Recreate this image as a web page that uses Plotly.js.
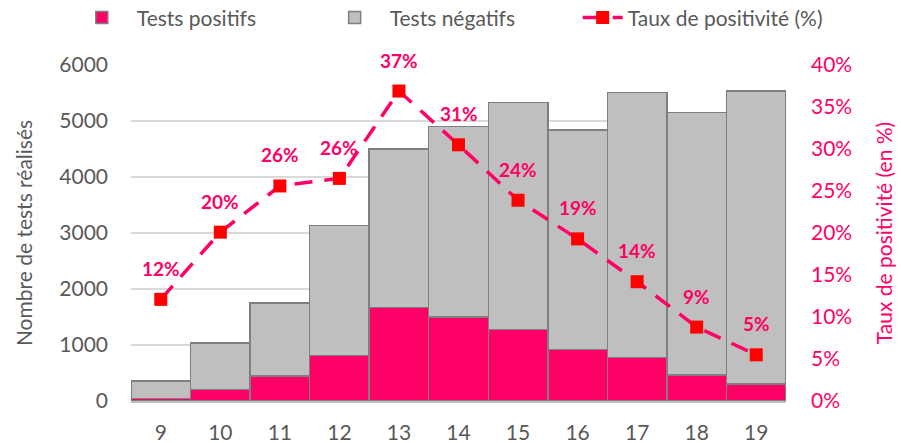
<!DOCTYPE html>
<html>
<head>
<meta charset="utf-8">
<script src="https://cdn.plot.ly/plotly-3.0.1.min.js"></script>
<style>
  body { margin: 0; background: #fff; }
  #graph { width: 901px; height: 443px; }
</style>
</head>
<body>
<div id="graph"></div>
<script>
// semaines
var weeks = [9, 10, 11, 12, 13, 14, 15, 16, 17, 18, 19];
var positifs = [45, 205, 450, 810, 1670, 1500, 1280, 920, 780, 460, 300];
var totaux = [360, 1040, 1750, 3130, 4500, 4900, 5330, 4840, 5510, 5150, 5540];
var negatifs = totaux.map(function (t, i) { return t - positifs[i]; });
var taux = [12.1, 20.1, 25.6, 26.5, 36.9, 30.5, 23.9, 19.3, 14.2, 8.8, 5.5];
var tauxLabels = ["12%", "20%", "26%", "26%", "37%", "31%", "24%", "19%", "14%", "9%", "5%"];

var pink = "#FF0066";
var grey = "#595959";
var font = "Lato, 'Open Sans', sans-serif";

var tracePOS = {
  type: "bar",
  name: "Tests positifs",
  legend: "legend",
  x: weeks,
  y: positifs,
  marker: { color: pink, line: { color: "#7F7F7F", width: 1.5 } },
};
var traceNEG = {
  type: "bar",
  name: "Tests négatifs",
  legend: "legend2",
  x: weeks,
  y: negatifs,
  marker: { color: "#BFBFBF", line: { color: "#7F7F7F", width: 1.5 } },
};
var traceTAUX = {
  type: "scatter",
  mode: "lines+markers",
  name: "Taux de positivité (%)",
  legend: "legend3",
  x: weeks,
  y: taux,
  yaxis: "y2",
  line: { color: pink, width: 3.5, dash: "18px,12px" },
  marker: { symbol: "square", size: 13, color: "#FF0000" },
};

var annotations = weeks.map(function (w, i) {
  return {
    x: w,
    y: taux[i],
    yref: "y2",
    text: "<b>" + tauxLabels[i] + "</b>",
    showarrow: false,
    yshift: 31,
    font: { family: font, size: 19, color: pink },
  };
});

// one legend per entry, so each can sit where the reference has it
function legendAt(x, itemwidth) {
  return {
    orientation: "h",
    x: x,
    xanchor: "left",
    y: 1.14,
    yanchor: "middle",
    itemwidth: itemwidth,
    bgcolor: "rgba(0,0,0,0)",
    font: { family: font, size: 21, color: grey },
  };
}

var layout = {
  width: 901,
  height: 443,
  margin: { l: 131, r: 115, t: 65, b: 42, autoexpand: false },
  paper_bgcolor: "white",
  plot_bgcolor: "white",
  barmode: "stack",
  bargap: 0,
  font: { family: font, size: 21, color: grey },
  showlegend: true,
  legend: legendAt(-0.098, 60),
  legend2: legendAt(0.288, 60),
  legend3: legendAt(0.682, 40),
  xaxis: {
    range: [8.5, 19.5],
    tickmode: "array",
    tickvals: weeks,
    showgrid: false,
    showline: true,
    linecolor: "#BFBFBF",
    linewidth: 1.5,
    ticks: "",
    ticklabelstandoff: 12,
    tickfont: { size: 21, color: grey },
  },
  yaxis: {
    range: [0, 6000],
    dtick: 1000,
    showgrid: true,
    gridcolor: "#D9D9D9",
    gridwidth: 1.5,
    zeroline: false,
    ticklabelstandoff: 22,
    tickfont: { size: 21, color: grey },
    title: { text: "Nombre de tests réalisés", font: { size: 21, color: grey }, standoff: 20 },
  },
  yaxis2: {
    overlaying: "y",
    side: "right",
    range: [0, 40],
    dtick: 5,
    ticksuffix: "%",
    showgrid: false,
    zeroline: false,
    ticklabelstandoff: 24,
    tickfont: { size: 21, color: pink },
    title: { text: "Taux de positivité (en %)", font: { size: 21, color: pink }, standoff: 26 },
  },
  annotations: annotations,
};

var config = { staticPlot: true, displayModeBar: false };

Plotly.newPlot("graph", [tracePOS, traceNEG, traceTAUX], layout, config);
</script>
</body>
</html>
